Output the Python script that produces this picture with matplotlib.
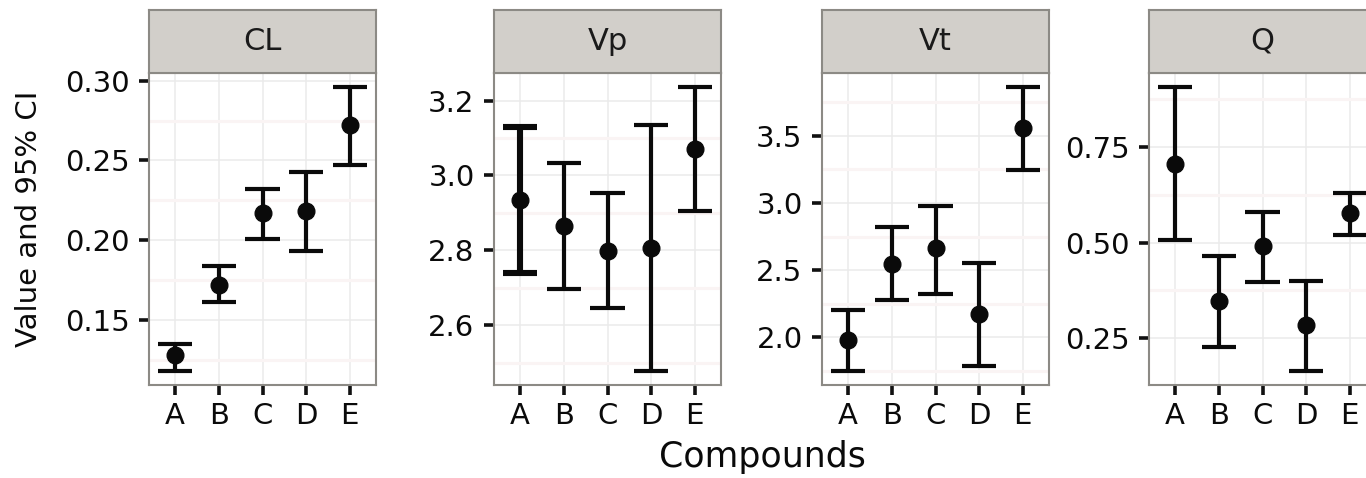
import matplotlib
matplotlib.use("Agg")
import matplotlib.pyplot as plt
import numpy as np
from matplotlib.ticker import FixedLocator, MultipleLocator

# --- data ------------------------------------------------------------------
compounds = ["A", "B", "C", "D", "E"]
params = ["CL", "Vp", "Vt", "Q"]

cl_est = [0.128, 0.172, 0.217, 0.218, 0.272]
cl_lo = [0.118, 0.161, 0.201, 0.193, 0.247]
cl_hi = [0.135, 0.184, 0.232, 0.243, 0.296]

vp_est = [2.935, 2.865, 2.798, 2.807, 3.072]
vp_lo = [2.740, 2.697, 2.647, 2.478, 2.906]
vp_hi = [3.130, 3.033, 2.952, 3.135, 3.236]

vt_est = [1.980, 2.547, 2.663, 2.170, 3.562]
vt_lo = [1.750, 2.275, 2.320, 1.787, 3.248]
vt_hi = [2.203, 2.822, 2.975, 2.555, 3.863]

q_est = [0.705, 0.347, 0.490, 0.285, 0.578]
q_lo = [0.507, 0.228, 0.397, 0.165, 0.520]
q_hi = [0.906, 0.464, 0.581, 0.400, 0.630]

cl_ticks = [0.15, 0.20, 0.25, 0.30]
vp_ticks = [2.6, 2.8, 3.0, 3.2]
vt_ticks = [2.0, 2.5, 3.0, 3.5]
q_ticks = [0.25, 0.50, 0.75]
cl_labels = ["0.15", "0.20", "0.25", "0.30"]
vp_labels = ["2.6", "2.8", "3.0", "3.2"]
vt_labels = ["2.0", "2.5", "3.0", "3.5"]
q_labels = ["0.25", "0.50", "0.75"]

panels = [
    (cl_est, cl_lo, cl_hi, cl_ticks, cl_labels),
    (vp_est, vp_lo, vp_hi, vp_ticks, vp_labels),
    (vt_est, vt_lo, vt_hi, vt_ticks, vt_labels),
    (q_est, q_lo, q_hi, q_ticks, q_labels),
]

# --- layout (pixels) ---------------------------------------------------------
W, H = 1366, 478
lefts = [149, 494, 822, 1149]
pw = 227
ptop, pbot = 73, 385
stop = 9.5

border = "#8C8A85"
strip_fill = "#D2CFCA"
ink = "#0A0A0A"


def box(left, top, width, height):
    return [left / W, 1 - (top + height) / H, width / W, height / H]


fig = plt.figure(figsize=(W / 100, H / 100), dpi=100)

for k, (name, (est, lo, hi, ticks, labels)) in enumerate(zip(params, panels)):
    est, lo, hi = np.array(est), np.array(lo), np.array(hi)
    x = np.arange(1, len(compounds) + 1)

    ax = fig.add_axes(box(lefts[k], ptop, pw, pbot - ptop))
    ax.set_xlim(0.4, len(compounds) + 0.6)
    r = hi.max() - lo.min()
    ax.set_ylim(lo.min() - 0.05 * r, hi.max() + 0.05 * r)

    step = ticks[1] - ticks[0]
    ax.yaxis.set_major_locator(FixedLocator(ticks))
    ax.set_yticklabels(labels)
    ax.yaxis.set_minor_locator(MultipleLocator(step / 2))
    ax.set_xticks(x)
    ax.set_xticklabels(compounds)

    ax.grid(which="major", color="#EBEBEB", lw=1.1, zorder=0)
    ax.grid(which="minor", axis="y", color="#FAF4F4", lw=2.2, zorder=0)
    ax.set_axisbelow(True)

    lw = np.full(len(x), 3.0)
    if name == "Vp":
        lw[0] = 4.4  # drawn heavier in the reference
    half = 0.39
    ax.vlines(x, lo, hi, color=ink, lw=lw, zorder=3)
    ax.hlines(lo, x - half, x + half, color=ink, lw=lw, zorder=3)
    ax.hlines(hi, x - half, x + half, color=ink, lw=lw, zorder=3)
    ax.plot(x, est, "o", ms=12, color=ink, zorder=4)

    for s in ax.spines.values():
        s.set_color(border)
        s.set_linewidth(1.5)
    ax.tick_params(which="major", direction="out", length=7.5, width=2.6,
                   color="#111111", labelsize=21, labelcolor="#0A0A0A")
    ax.tick_params(axis="y", pad=6.5)
    ax.tick_params(axis="x", pad=5)
    ax.tick_params(which="minor", length=0)

    sax = fig.add_axes(box(lefts[k], stop, pw, ptop - stop))
    sax.set_facecolor(strip_fill)
    sax.set_xticks([]); sax.set_yticks([])
    for s in sax.spines.values():
        s.set_color(border)
        s.set_linewidth(1.5)
    sax.text(0.5, 0.5, name, ha="center", va="center", fontsize=22,
             color="#1A1A1A", transform=sax.transAxes)

fig.text(29 / W, 1 - 218.5 / H, "Value and 95% CI", rotation=90,
         ha="center", va="center", fontsize=21, color="#0A0A0A")
fig.text(762.5 / W, 1 - 467 / H, "Compounds", ha="center", va="baseline",
         fontsize=25, color="#0A0A0A")

fig.savefig("out.png", dpi=100)
